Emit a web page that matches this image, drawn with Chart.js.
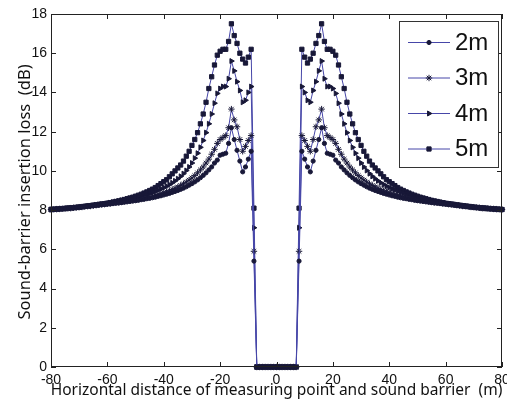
<!DOCTYPE html>
<html>
<head>
<meta charset="utf-8">
<title>Sound-barrier insertion loss</title>
<script src="https://cdn.jsdelivr.net/npm/chart.js@4.4.1/dist/chart.umd.min.js"></script>
<style>
    html, body { margin: 0; padding: 0; background: #fff; }
    #chart { display: block; }
</style>
</head>
<body>
<canvas id="chart" width="507" height="405"></canvas>
<script>
// Horizontal distance of measuring point (m)
const distance = [
    -80, -79, -78, -77, -76, -75, -74, -73, -72, -71, -70, -69, -68, -67, -66, -65, -64, -63, -62, -61,
    -60, -59, -58, -57, -56, -55, -54, -53, -52, -51, -50, -49, -48, -47, -46, -45, -44, -43, -42, -41,
    -40, -39, -38, -37, -36, -35, -34, -33, -32, -31, -30, -29, -28, -27, -26, -25, -24, -23, -22, -21,
    -20, -19, -18, -17, -16, -15, -14, -13, -12, -11, -10, -9, -8, -7, -6, -5, -4, -3, -2, -1,
    0, 1, 2, 3, 4, 5, 6, 7, 8, 9, 10, 11, 12, 13, 14, 15, 16, 17, 18, 19,
    20, 21, 22, 23, 24, 25, 26, 27, 28, 29, 30, 31, 32, 33, 34, 35, 36, 37, 38, 39,
    40, 41, 42, 43, 44, 45, 46, 47, 48, 49, 50, 51, 52, 53, 54, 55, 56, 57, 58, 59,
    60, 61, 62, 63, 64, 65, 66, 67, 68, 69, 70, 71, 72, 73, 74, 75, 76, 77, 78, 79,
    80
];

const seriesLabels = ['2m', '3m', '4m', '5m'];

// insertion loss (dB) between -7 m and 7 m (under the barrier)
const barrierZone = [0, 0, 0, 0, 0, 0, 0, 0, 0, 0, 0, 0, 0, 0, 0];

// -80 m .. -8 m
const loss2mLeft = [
    8.04, 8.05, 8.06, 8.07, 8.08, 8.1, 8.11, 8.12, 8.13, 8.14,
    8.16, 8.17, 8.18, 8.2, 8.21, 8.22, 8.24, 8.25, 8.27, 8.28,
    8.3, 8.31, 8.33, 8.35, 8.36, 8.38, 8.4, 8.42, 8.44, 8.46,
    8.48, 8.5, 8.53, 8.55, 8.58, 8.6, 8.63, 8.66, 8.7, 8.73,
    8.77, 8.81, 8.85, 8.9, 8.95, 9.0, 9.06, 9.12, 9.19, 9.27,
    9.35, 9.44, 9.54, 9.65, 9.77, 9.9, 10.05, 10.2, 10.4, 10.55,
    10.8, 10.85, 10.9, 11.4, 12.2, 11.6, 11.05, 10.5, 9.95, 10.2, 10.6, 11.0, 5.4
];
// 8 m .. 80 m
const loss2mRight = [
    5.4, 11.0, 10.6, 10.2, 9.95, 10.5, 11.05, 11.6, 12.2, 11.4, 10.9, 10.85, 10.8,
    10.55, 10.4, 10.2, 10.05, 9.9, 9.77, 9.65, 9.54, 9.44, 9.35,
    9.27, 9.19, 9.12, 9.06, 9.0, 8.95, 8.9, 8.85, 8.81, 8.77,
    8.73, 8.7, 8.66, 8.63, 8.6, 8.58, 8.55, 8.53, 8.5, 8.48,
    8.46, 8.44, 8.42, 8.4, 8.38, 8.36, 8.35, 8.33, 8.31, 8.3,
    8.28, 8.27, 8.25, 8.24, 8.22, 8.21, 8.2, 8.18, 8.17, 8.16,
    8.14, 8.13, 8.12, 8.11, 8.1, 8.08, 8.07, 8.06, 8.05, 8.04
];

const loss3mLeft = [
    8.03, 8.04, 8.05, 8.06, 8.07, 8.08, 8.09, 8.1, 8.12, 8.13,
    8.15, 8.16, 8.18, 8.2, 8.21, 8.23, 8.25, 8.27, 8.29, 8.31,
    8.33, 8.35, 8.37, 8.39, 8.41, 8.43, 8.45, 8.47, 8.5, 8.52,
    8.54, 8.57, 8.6, 8.63, 8.66, 8.69, 8.72, 8.76, 8.8, 8.84,
    8.89, 8.94, 8.99, 9.05, 9.11, 9.18, 9.26, 9.34, 9.43, 9.53,
    9.64, 9.76, 9.9, 10.05, 10.2, 10.4, 10.6, 10.85, 11.1, 11.4,
    11.6, 11.7, 11.8, 12.2, 13.15, 12.6, 12.25, 11.6, 11.0, 11.25, 11.55, 11.8, 5.9
];
const loss3mRight = [
    5.9, 11.8, 11.55, 11.25, 11.0, 11.6, 12.25, 12.6, 13.15, 12.2, 11.8, 11.7, 11.6,
    11.4, 11.1, 10.85, 10.6, 10.4, 10.2, 10.05, 9.9, 9.76, 9.64,
    9.53, 9.43, 9.34, 9.26, 9.18, 9.11, 9.05, 8.99, 8.94, 8.89,
    8.84, 8.8, 8.76, 8.72, 8.69, 8.66, 8.63, 8.6, 8.57, 8.54,
    8.52, 8.5, 8.47, 8.45, 8.43, 8.41, 8.39, 8.37, 8.35, 8.33,
    8.31, 8.29, 8.27, 8.25, 8.23, 8.21, 8.2, 8.18, 8.16, 8.15,
    8.13, 8.12, 8.1, 8.09, 8.08, 8.07, 8.06, 8.05, 8.04, 8.03
];

const loss4mLeft = [
    8.03, 8.04, 8.05, 8.06, 8.07, 8.08, 8.09, 8.1, 8.12, 8.13,
    8.15, 8.16, 8.18, 8.2, 8.22, 8.24, 8.26, 8.28, 8.3, 8.32,
    8.34, 8.37, 8.4, 8.43, 8.46, 8.5, 8.53, 8.56, 8.59, 8.62,
    8.65, 8.69, 8.73, 8.77, 8.81, 8.86, 8.91, 8.96, 9.02, 9.08,
    9.15, 9.22, 9.3, 9.39, 9.49, 9.6, 9.72, 9.86, 10.02, 10.2,
    10.4, 10.65, 10.9, 11.2, 11.55, 11.95, 12.4, 12.9, 13.45, 13.95,
    14.2, 14.3, 14.3, 14.7, 15.6, 15.1, 14.55, 14.1, 13.5, 13.6, 14.0, 14.3, 7.1
];
const loss4mRight = [
    7.1, 14.3, 14.0, 13.6, 13.5, 14.1, 14.55, 15.1, 15.6, 14.7, 14.3, 14.3, 14.2,
    13.95, 13.45, 12.9, 12.4, 11.95, 11.55, 11.2, 10.9, 10.65, 10.4,
    10.2, 10.02, 9.86, 9.72, 9.6, 9.49, 9.39, 9.3, 9.22, 9.15,
    9.08, 9.02, 8.96, 8.91, 8.86, 8.81, 8.77, 8.73, 8.69, 8.65,
    8.62, 8.59, 8.56, 8.53, 8.5, 8.46, 8.43, 8.4, 8.37, 8.34,
    8.32, 8.3, 8.28, 8.26, 8.24, 8.22, 8.2, 8.18, 8.16, 8.15,
    8.13, 8.12, 8.1, 8.09, 8.08, 8.07, 8.06, 8.05, 8.04, 8.03
];

const loss5mLeft = [
    8.03, 8.04, 8.05, 8.06, 8.07, 8.08, 8.1, 8.11, 8.12, 8.14,
    8.15, 8.17, 8.19, 8.21, 8.23, 8.25, 8.27, 8.29, 8.31, 8.33,
    8.35, 8.38, 8.41, 8.44, 8.47, 8.5, 8.54, 8.58, 8.62, 8.66,
    8.71, 8.76, 8.81, 8.87, 8.93, 9.0, 9.07, 9.15, 9.25, 9.35,
    9.45, 9.55, 9.7, 9.85, 10.0, 10.15, 10.3, 10.5, 10.75, 11.0,
    11.3, 11.6, 11.95, 12.4, 12.9, 13.5, 14.2, 14.8, 15.4, 15.9,
    16.1, 16.2, 16.2, 16.6, 17.5, 16.9, 16.5, 16.0, 15.7, 15.5, 15.8, 16.2, 8.1
];
const loss5mRight = [
    8.1, 16.2, 15.8, 15.5, 15.7, 16.0, 16.5, 16.9, 17.5, 16.6, 16.2, 16.2, 16.1,
    15.9, 15.4, 14.8, 14.2, 13.5, 12.9, 12.4, 11.95, 11.6, 11.3,
    11.0, 10.75, 10.5, 10.3, 10.15, 10.0, 9.85, 9.7, 9.55, 9.45,
    9.35, 9.25, 9.15, 9.07, 9.0, 8.93, 8.87, 8.81, 8.76, 8.71,
    8.66, 8.62, 8.58, 8.54, 8.5, 8.47, 8.44, 8.41, 8.38, 8.35,
    8.33, 8.31, 8.29, 8.27, 8.25, 8.23, 8.21, 8.19, 8.17, 8.15,
    8.14, 8.12, 8.11, 8.1, 8.08, 8.07, 8.06, 8.05, 8.04, 8.03
];

const xTicks = [-80, -60, -40, -20, 0, 20, 40, 60, 80];
const yTicks = [0, 2, 4, 6, 8, 10, 12, 14, 16, 18];

const xTitle = 'Horizontal distance of measuring point and sound barrier  (m)';
const yTitle = 'Sound-barrier insertion loss  (dB)';

// full curves, -80 m .. 80 m
const curves = [
    loss2mLeft.concat(barrierZone, loss2mRight),
    loss3mLeft.concat(barrierZone, loss3mRight),
    loss4mLeft.concat(barrierZone, loss4mRight),
    loss5mLeft.concat(barrierZone, loss5mRight)
];

const LINE_COLOR = '#4646a8';
const MARK_COLOR = '#181838';
const markers = [
    { pointStyle: 'circle', radius: 2.1, rotation: 0 },
    { pointStyle: 'star', radius: 3.2, rotation: 0 },
    { pointStyle: 'triangle', radius: 2.9, rotation: 90 },
    { pointStyle: 'rect', radius: 3, rotation: 0 }
];

const datasets = seriesLabels.map((label, i) => ({
    label: label,
    data: distance.map((d, k) => ({ x: d, y: curves[i][k] })),
    borderColor: LINE_COLOR,
    borderWidth: 1,
    backgroundColor: MARK_COLOR,
    pointBackgroundColor: MARK_COLOR,
    pointBorderColor: MARK_COLOR,
    pointBorderWidth: 1,
    pointStyle: markers[i].pointStyle,
    pointRadius: markers[i].radius,
    pointRotation: markers[i].rotation,
    tension: 0,
    fill: false,
    clip: 4
}));

function drawMarker(ctx, m, x, y) {
    if (Chart.helpers && Chart.helpers.drawPoint) {
        Chart.helpers.drawPoint(ctx, { pointStyle: m.pointStyle, radius: m.radius, rotation: m.rotation, borderWidth: 1 }, x, y);
    } else {
        ctx.beginPath();
        ctx.arc(x, y, m.radius, 0, Math.PI * 2);
        ctx.fill();
    }
}

// box, inward ticks, axis titles and legend
const decorations = {
    id: 'decorations',
    afterDraw(chart) {
        const { ctx, chartArea: a, scales: { x, y } } = chart;
        ctx.save();

        ctx.strokeStyle = '#222';
        ctx.lineWidth = 1;
        ctx.strokeRect(a.left + 0.5, a.top + 0.5, a.right - a.left - 1, a.bottom - a.top - 1);

        ctx.beginPath();
        xTicks.forEach(v => {
            const px = Math.round(x.getPixelForValue(v)) + 0.5;
            ctx.moveTo(px, a.bottom); ctx.lineTo(px, a.bottom - 5);
            ctx.moveTo(px, a.top); ctx.lineTo(px, a.top + 5);
        });
        yTicks.forEach(v => {
            const py = Math.round(y.getPixelForValue(v)) + 0.5;
            ctx.moveTo(a.left, py); ctx.lineTo(a.left + 5, py);
            ctx.moveTo(a.right, py); ctx.lineTo(a.right - 5, py);
        });
        ctx.stroke();

        // axis titles
        ctx.fillStyle = '#111';
        ctx.textAlign = 'center';
        ctx.textBaseline = 'middle';
        ctx.font = '15.5px "Noto Sans", sans-serif';
        ctx.fillText(xTitle, (a.left + a.right) / 2, 391);
        ctx.save();
        ctx.translate(25, 192);
        ctx.rotate(-Math.PI / 2);
        ctx.font = '16.5px "Noto Sans", sans-serif';
        ctx.fillText(yTitle, 0, 0);
        ctx.restore();

        // legend
        const box = { left: 399, top: 21, right: 499, bottom: 168 };
        ctx.fillStyle = '#fff';
        ctx.fillRect(box.left, box.top, box.right - box.left, box.bottom - box.top);
        ctx.strokeStyle = '#333';
        ctx.strokeRect(box.left + 0.5, box.top + 0.5, box.right - box.left - 1, box.bottom - box.top - 1);
        ctx.font = '24px "Liberation Sans", Arial, sans-serif';
        ctx.textAlign = 'left';
        seriesLabels.forEach((label, i) => {
            const ly = 42 + i * 35.5;
            ctx.strokeStyle = LINE_COLOR;
            ctx.beginPath();
            ctx.moveTo(408, ly + 0.5);
            ctx.lineTo(450, ly + 0.5);
            ctx.stroke();
            ctx.fillStyle = MARK_COLOR;
            ctx.strokeStyle = MARK_COLOR;
            drawMarker(ctx, markers[i], 429, ly + 0.5);
            ctx.fillStyle = '#111';
            ctx.fillText(label, 455, ly + 1);
        });

        ctx.restore();
    }
};

new Chart(document.getElementById('chart'), {
    type: 'line',
    data: { datasets: datasets },
    options: {
        responsive: false,
        animation: false,
        layout: { padding: { top: 14, right: 2, left: 0, bottom: 0 } },
        plugins: {
            legend: { display: false },
            tooltip: { enabled: false }
        },
        scales: {
            x: {
                type: 'linear',
                min: -80,
                max: 80,
                afterBuildTicks: scale => { scale.ticks = xTicks.map(v => ({ value: v })); },
                afterFit: scale => {
                    scale.height = 38;
                    scale.paddingLeft = 0;
                    scale.paddingRight = 0;
                },
                grid: { display: false, drawTicks: false },
                border: { display: false },
                ticks: {
                    color: '#111',
                    padding: 5,
                    maxRotation: 0,
                    autoSkip: false,
                    font: { family: '"Liberation Sans", Arial, sans-serif', size: 14 }
                }
            },
            y: {
                min: 0,
                max: 18,
                afterBuildTicks: scale => { scale.ticks = yTicks.map(v => ({ value: v })); },
                afterFit: scale => {
                    scale.width = 51;
                    scale.paddingTop = 0;
                    scale.paddingBottom = 0;
                },
                grid: { display: false, drawTicks: false },
                border: { display: false },
                ticks: {
                    color: '#111',
                    padding: 4,
                    autoSkip: false,
                    font: { family: '"Liberation Sans", Arial, sans-serif', size: 14 }
                }
            }
        }
    },
    plugins: [decorations]
});
</script>
</body>
</html>
